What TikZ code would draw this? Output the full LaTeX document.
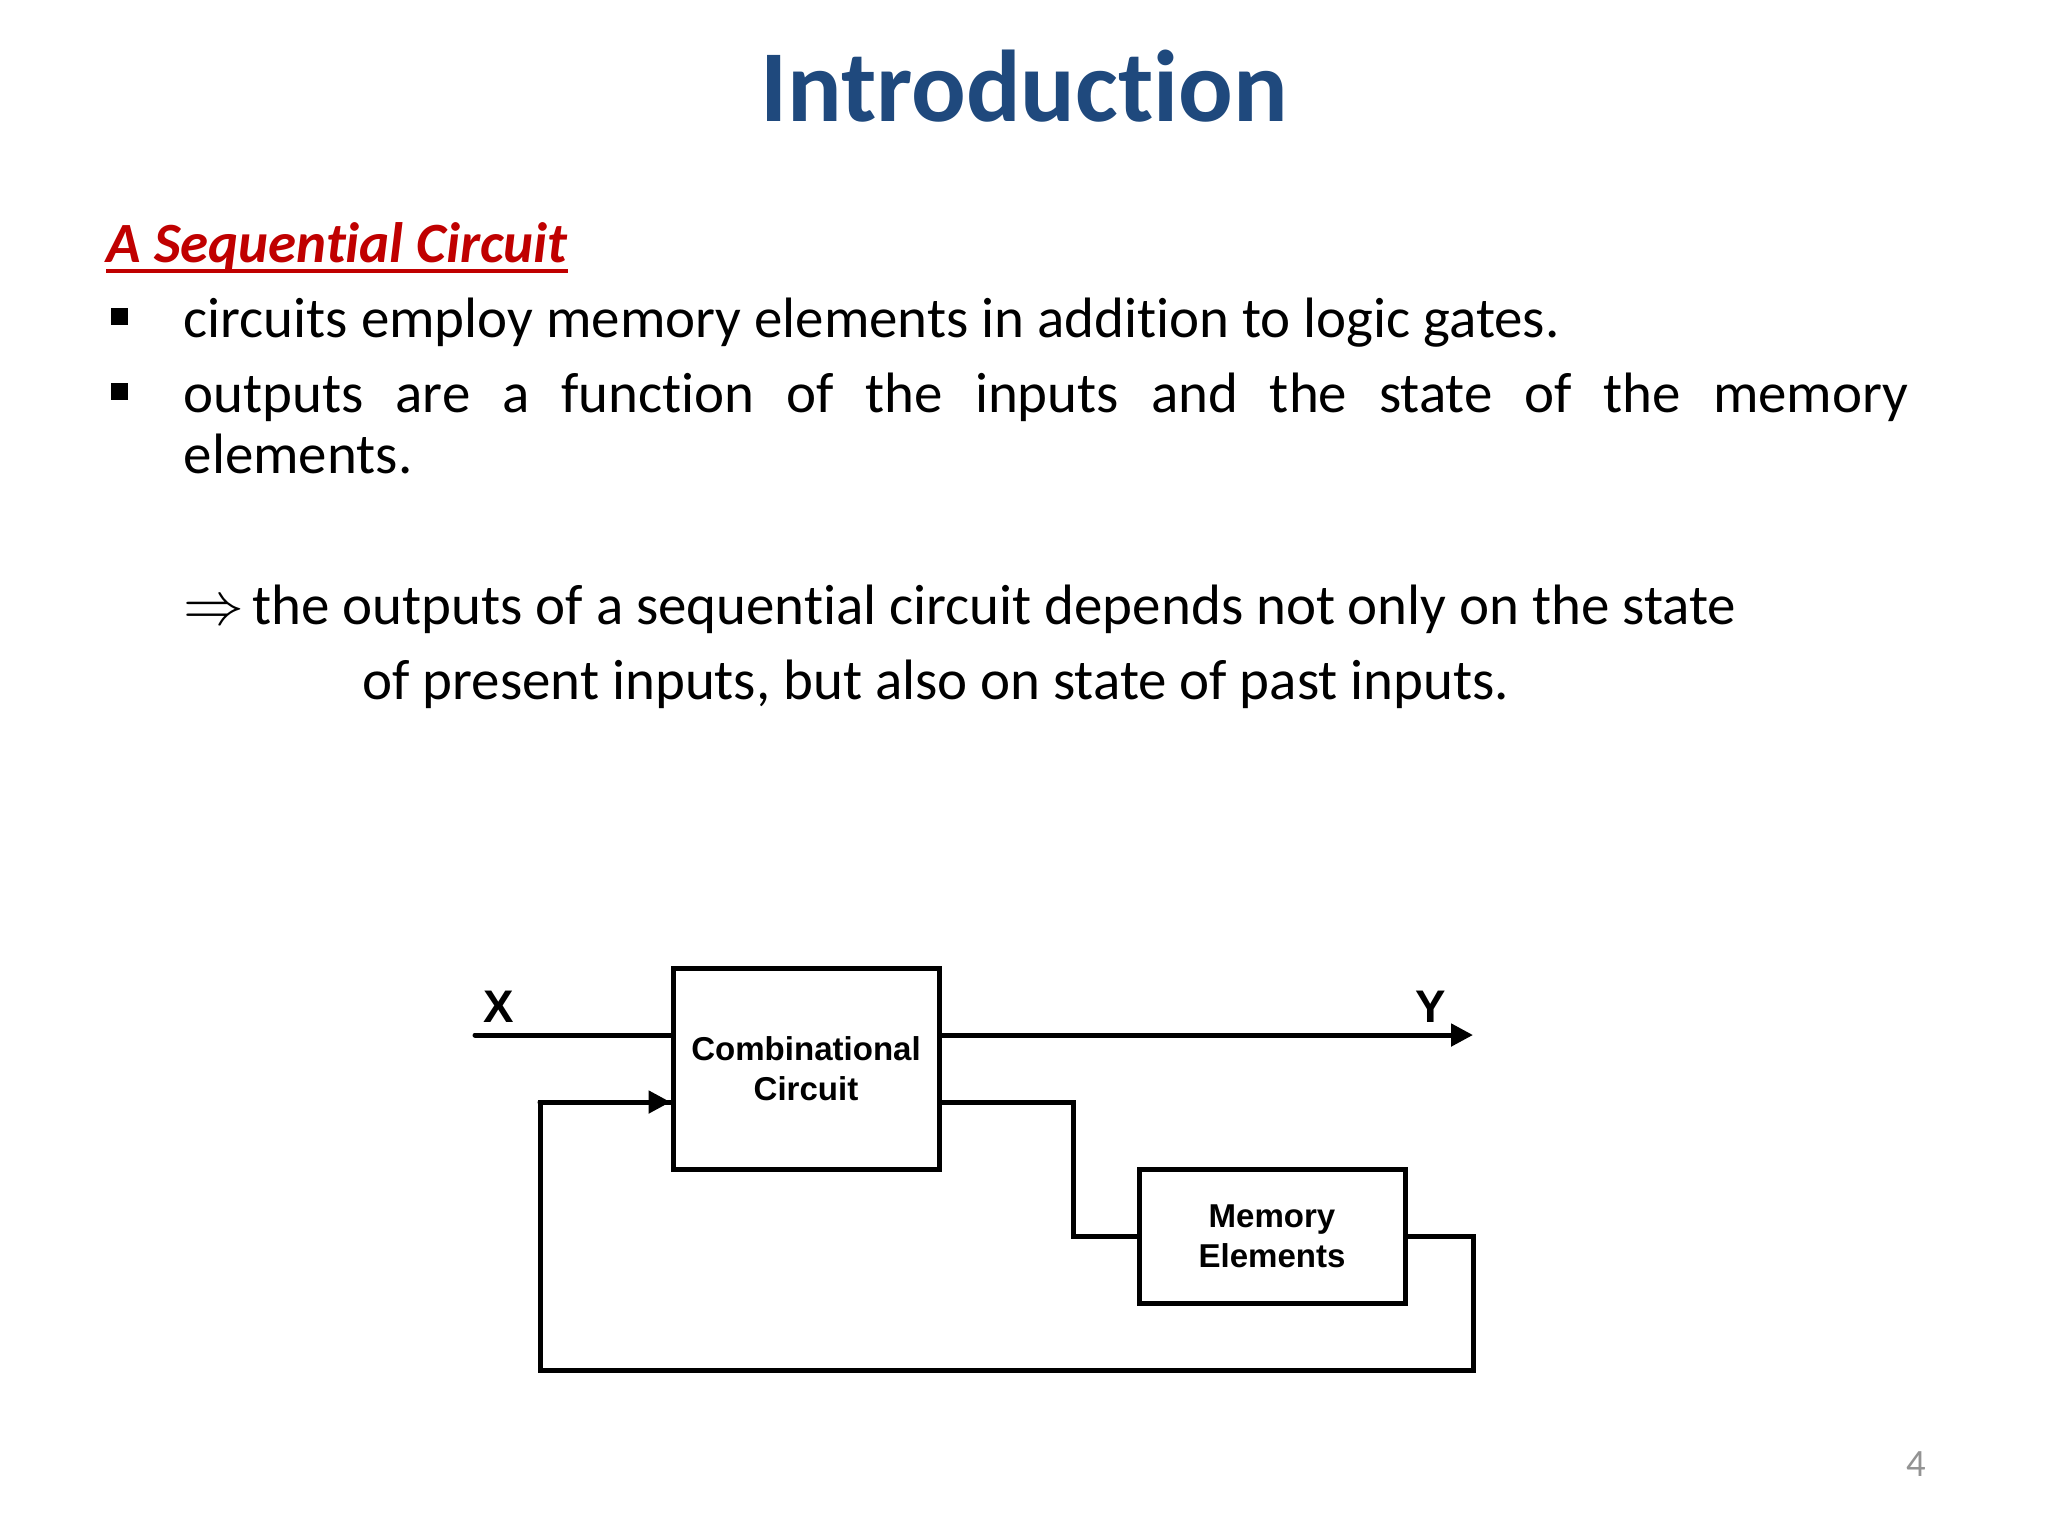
\documentclass[tikz,border=0pt]{standalone}
\usepackage{fontspec}
\setmainfont[RawFeature={-liga;-clig;-dlig}]{Carlito}
\newfontfamily\arialf{Liberation Sans}
\usetikzlibrary{arrows.meta}
\definecolor{titleblue}{RGB}{31,73,125}
\definecolor{headred}{RGB}{192,0,0}
\tikzset{
  x=0.1mm,y=-0.1mm,
  wire/.style={line width=0.5mm,black,line cap=round,line join=miter},
  arrowwire/.style={wire,-{Triangle[length=2.2mm,width=2.2mm]}},
  blockbox/.style={draw=black,line width=0.5mm,minimum width=26.6mm,align=center,font=\arialf\bfseries\fontsize{9.4pt}{11.4pt}\selectfont,inner sep=0pt},
  bodytext/.style={anchor=base west,inner sep=0pt,font=\fontsize{16.2pt}{17.36pt}\selectfont,text=black},
  pinlabel/.style={font=\arialf\bfseries\fontsize{13pt}{15pt}\selectfont,inner sep=0pt},
  bulletmark/.style={fill=black,minimum size=1.7mm,inner sep=0pt}
}
\begin{document}
\begin{tikzpicture}
\useasboundingbox (0,0) rectangle (2048,1536);
\fill[white] (0,0) rectangle (2048,1536);
\node[anchor=base,inner sep=0pt,text=titleblue,font=\bfseries\fontsize{29pt}{36pt}\selectfont] (title) at (1024,121) {Introduction};
\node[anchor=base west,inner sep=0pt,text=headred,font=\bfseries\itshape\fontsize{16.2pt}{18pt}\selectfont] (head) at (106,262) {A Sequential Circuit};
\draw[headred,line width=0.33mm] ([yshift=-0.9mm]head.base west) -- ([yshift=-0.9mm]head.base east);
\node[bulletmark] (b1) at (119,316) {};
\node[bulletmark] (b2) at (119,391) {};
\node[bodytext] (t1) at (183,337) {circuits employ memory elements in addition to logic gates.};
\node[bodytext,text width=172.5mm,align=justify] (t2) at (183,412) {outputs are a function of the inputs and the state of the memory\linebreak elements.};
\node[bodytext] (t3) at (183,624) {\fontsize{16.4pt}{18pt}\selectfont\ensuremath{\Rightarrow}};
\node[bodytext] (t3a) at (252,624) {the outputs of a sequential circuit depends not only on the state};
\node[bodytext] (t4) at (362,699) {of present inputs, but also on state of past inputs.};
\node[blockbox,minimum height=20.1mm] (cc) at (806,1069) {Combinational\\Circuit};
\node[blockbox,minimum height=13.4mm] (me) at (1272,1236) {Memory\\Elements};
\coordinate (xin) at (475,1035);
\coordinate (yout) at (1473,1035);
\coordinate (ccxin) at (cc.west |- xin);
\coordinate (ccyout) at (cc.east |- xin);
\coordinate (ccfbin) at ([yshift=-3.3mm]cc.center -| cc.west);
\coordinate (ccfbout) at ([yshift=-3.3mm]cc.center -| cc.east);
\coordinate (fbleft) at (540,1370);
\coordinate (fbright) at (1473,1370);
\draw[wire] (xin) -- (ccxin);
\draw[arrowwire] (ccyout) -- (yout);
\draw[wire] (ccfbout) -| (1073,1236) -- (me.west);
\draw[wire] (me.east) -| (fbright) -- (fbleft) |- (ccfbin);
\draw[arrowwire] (fbleft |- ccfbin) -- (ccfbin);
\node[pinlabel] (xl) at (499,1007) {X};
\node[pinlabel] (yl) at (1431,1007) {Y};
\node[anchor=base,inner sep=0pt,text=gray!85,font=\fontsize{11pt}{14pt}\selectfont] (pg) at (1916,1476) {4};
\end{tikzpicture}
\end{document}
